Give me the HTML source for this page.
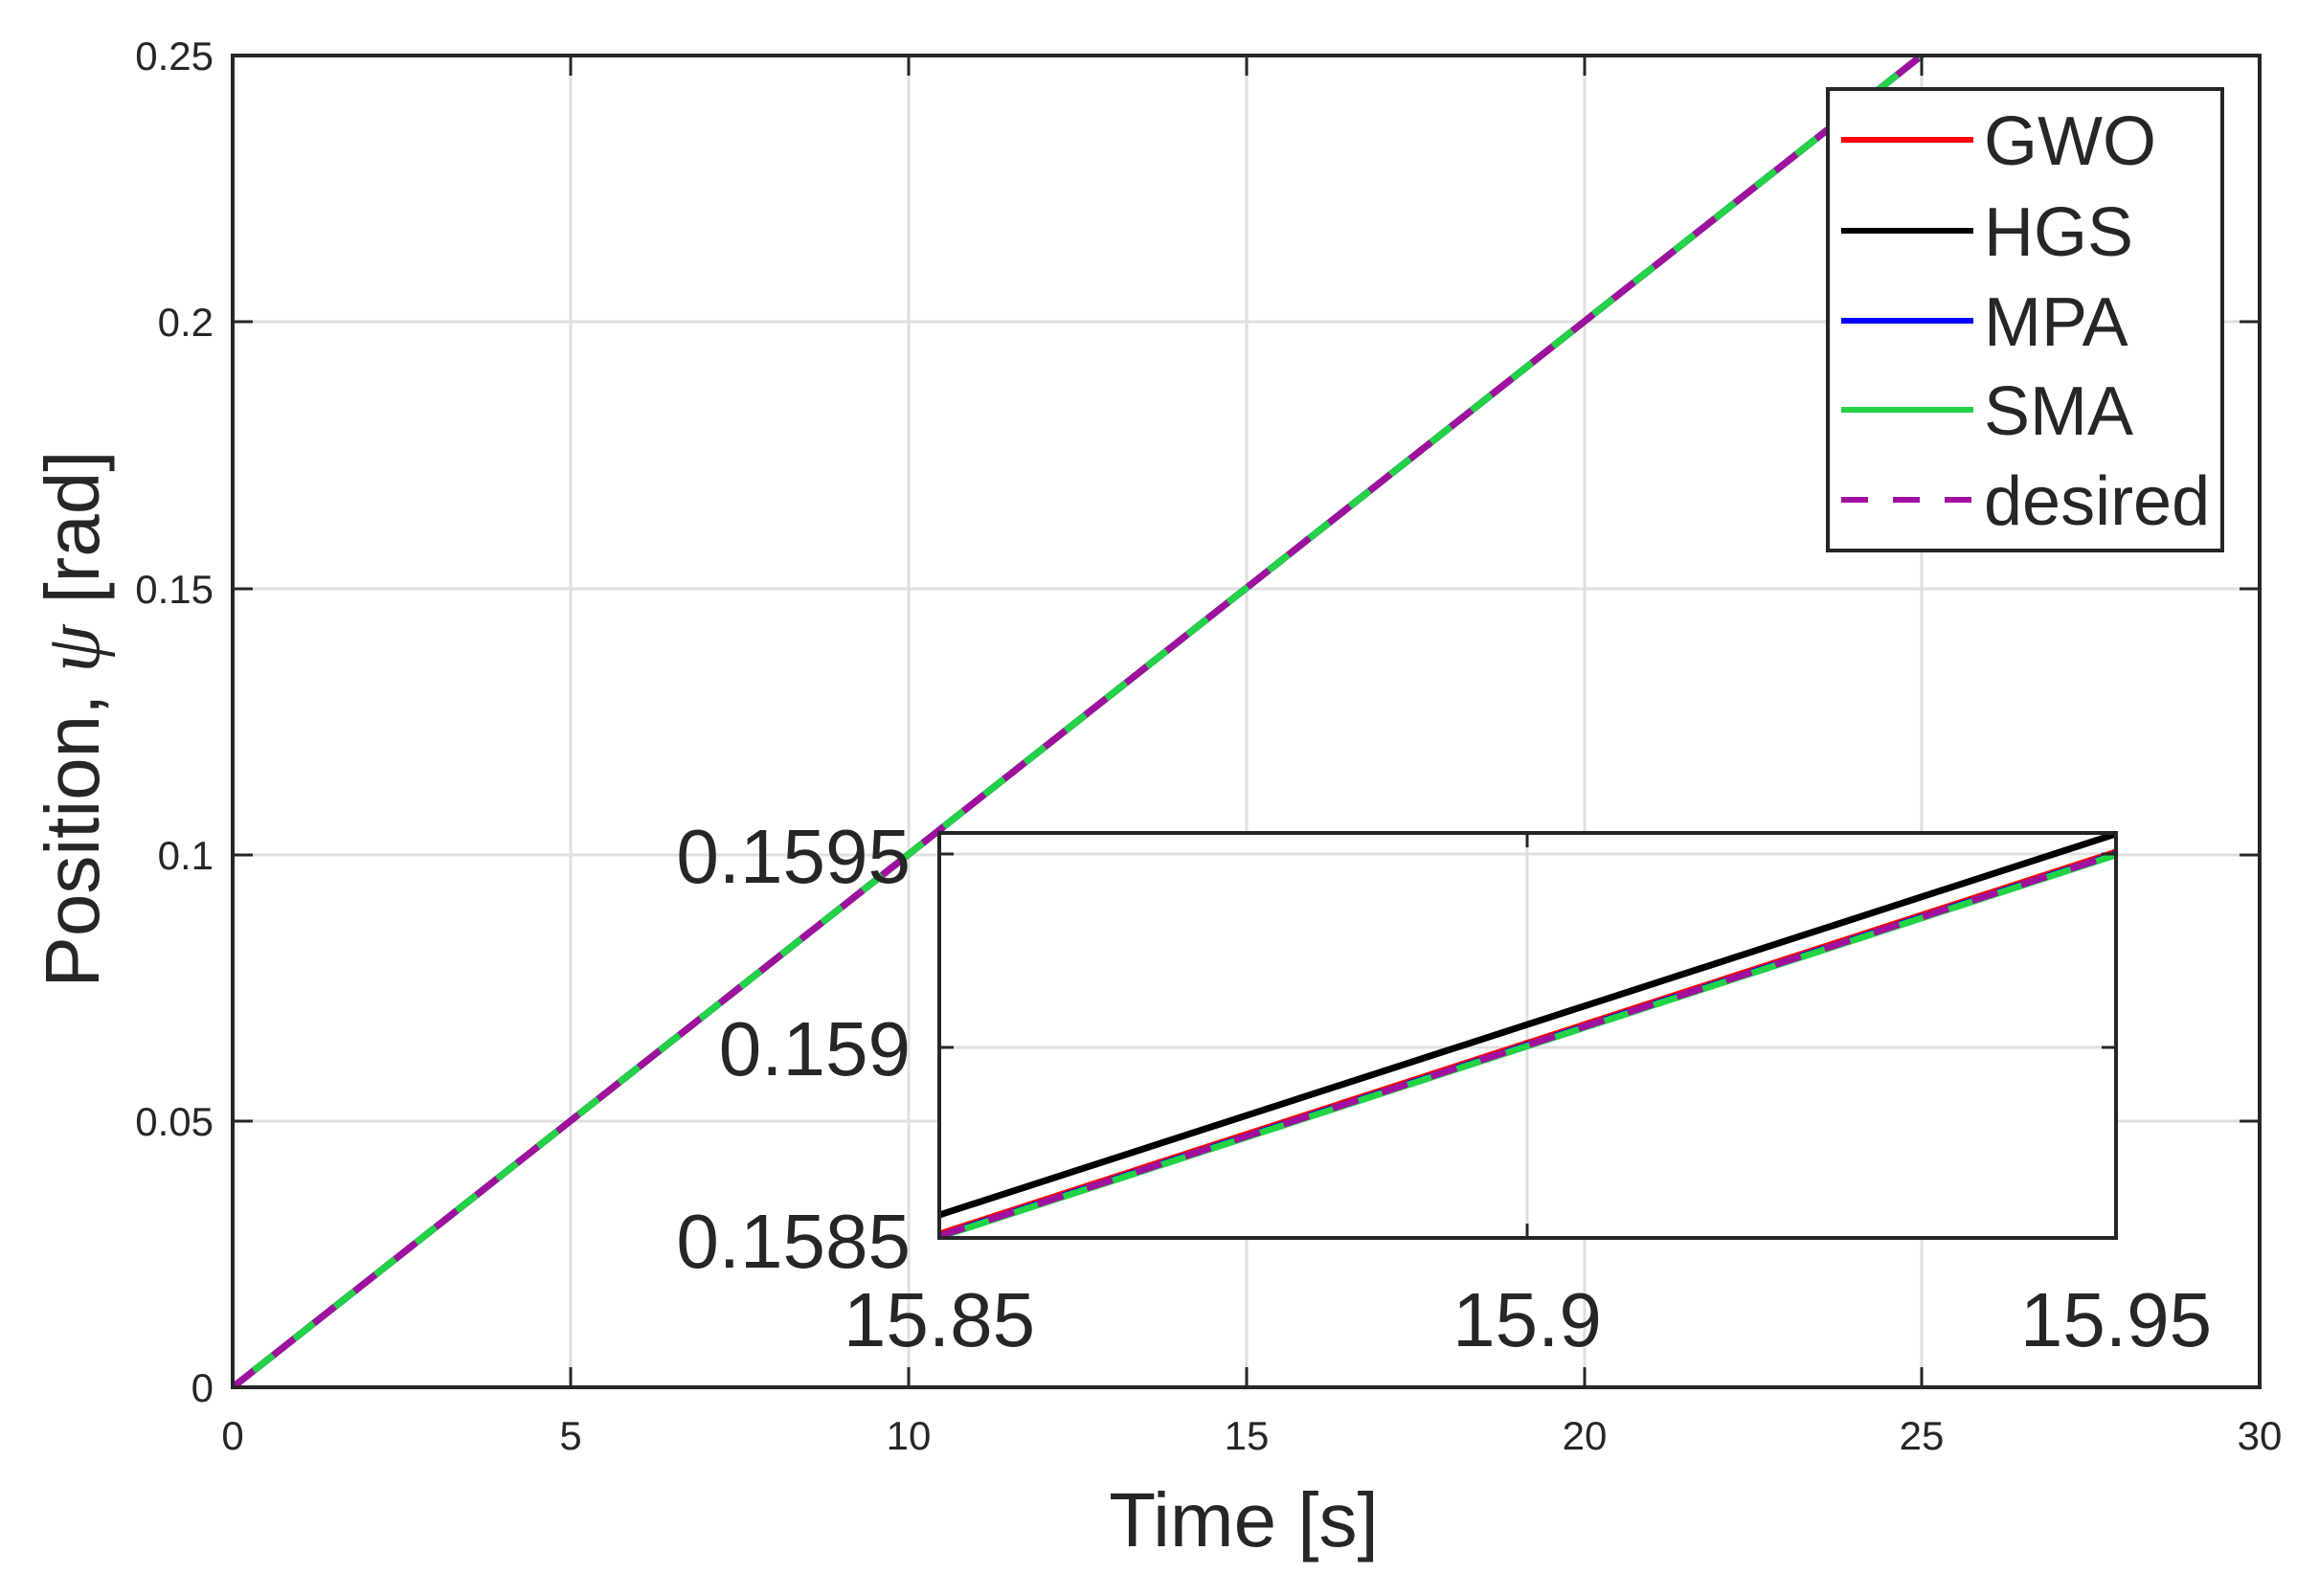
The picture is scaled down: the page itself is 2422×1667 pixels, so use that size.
<!DOCTYPE html>
<html><head><meta charset="utf-8"><style>
html,body{margin:0;padding:0;background:#fff;}
svg{display:block;}
text{font-family:"Liberation Sans",sans-serif;fill:#262626;}
</style></head><body>
<svg width="2422" height="1667" viewBox="0 0 2422 1667" xmlns="http://www.w3.org/2000/svg">
<rect width="2422" height="1667" fill="#fff"/>
<g stroke="#dfdfdf" stroke-width="3">
<line x1="596" y1="58" x2="596" y2="1449"/>
<line x1="949" y1="58" x2="949" y2="1449"/>
<line x1="1302" y1="58" x2="1302" y2="1449"/>
<line x1="1655" y1="58" x2="1655" y2="1449"/>
<line x1="2007" y1="58" x2="2007" y2="1449"/>
<line x1="243" y1="336" x2="2360" y2="336"/>
<line x1="243" y1="615" x2="2360" y2="615"/>
<line x1="243" y1="893" x2="2360" y2="893"/>
<line x1="243" y1="1171" x2="2360" y2="1171"/>
</g>
<defs><clipPath id="c"><rect x="243" y="58" width="2117" height="1391"/></clipPath>
<clipPath id="c2"><rect x="981" y="870" width="1229" height="423"/></clipPath></defs>
<g clip-path="url(#c)" stroke-width="7" fill="none">
<line x1="243" y1="1449" x2="2007" y2="58" stroke="#ff0000"/>
<line x1="243" y1="1449" x2="2007" y2="58" stroke="#000"/>
<line x1="243" y1="1449" x2="2007" y2="58" stroke="#0000ff"/>
<line x1="243" y1="1449" x2="2007" y2="58" stroke="#22d346"/>
<line x1="243" y1="1449" x2="2007" y2="58" stroke="#a0109f" stroke-dasharray="28 26"/>
</g>
<rect x="243" y="58" width="2117" height="1391" fill="none" stroke="#262626" stroke-width="4"/>
<g stroke="#262626" stroke-width="3">
<line x1="596" y1="1449" x2="596" y2="1428"/><line x1="949" y1="1449" x2="949" y2="1428"/><line x1="1302" y1="1449" x2="1302" y2="1428"/><line x1="1655" y1="1449" x2="1655" y2="1428"/><line x1="2007" y1="1449" x2="2007" y2="1428"/>
<line x1="596" y1="58" x2="596" y2="79"/><line x1="949" y1="58" x2="949" y2="79"/><line x1="1302" y1="58" x2="1302" y2="79"/><line x1="1655" y1="58" x2="1655" y2="79"/><line x1="2007" y1="58" x2="2007" y2="79"/>
<line x1="243" y1="336" x2="264" y2="336"/><line x1="243" y1="615" x2="264" y2="615"/><line x1="243" y1="893" x2="264" y2="893"/><line x1="243" y1="1171" x2="264" y2="1171"/>
<line x1="2360" y1="336" x2="2339" y2="336"/><line x1="2360" y1="615" x2="2339" y2="615"/><line x1="2360" y1="893" x2="2339" y2="893"/><line x1="2360" y1="1171" x2="2339" y2="1171"/>
</g>
<g font-size="42" text-anchor="end">
<text x="223" y="73">0.25</text>
<text x="223" y="351">0.2</text>
<text x="223" y="630">0.15</text>
<text x="223" y="908">0.1</text>
<text x="223" y="1186">0.05</text>
<text x="223" y="1464">0</text>
</g>
<g font-size="42" text-anchor="middle">
<text x="243" y="1514">0</text><text x="596" y="1514">5</text><text x="949" y="1514">10</text><text x="1302" y="1514">15</text><text x="1655" y="1514">20</text><text x="2007" y="1514">25</text><text x="2360" y="1514">30</text>
</g>
<text x="1299" y="1615" font-size="80" text-anchor="middle">Time [s]</text>
<text transform="translate(103,751) rotate(-90)" font-size="80" text-anchor="middle">Position, <tspan font-family="Liberation Serif,serif" font-style="italic">ψ</tspan> [rad]</text>
<rect x="981" y="870" width="1229" height="423" fill="#fff"/>
<g stroke="#dfdfdf" stroke-width="3">
<line x1="1595" y1="870" x2="1595" y2="1293"/>
<line x1="981" y1="1094" x2="2210" y2="1094"/>
<line x1="981" y1="892" x2="2210" y2="892"/>
</g>
<g clip-path="url(#c2)" stroke-width="7" fill="none">
<line x1="981" y1="1269" x2="2210" y2="871" stroke="#000"/>
<line x1="981" y1="1289" x2="2210" y2="890" stroke="#ff0000"/>
<line x1="981" y1="1291" x2="2210" y2="892" stroke="#0000ff"/>
<line x1="981" y1="1292" x2="2210" y2="893" stroke="#22d346"/>
<line x1="981" y1="1291" x2="2210" y2="892" stroke="#a0109f" stroke-dasharray="28 26"/>
</g>
<rect x="981" y="870" width="1229" height="423" fill="none" stroke="#262626" stroke-width="4"/>
<g stroke="#262626" stroke-width="3">
<line x1="1595" y1="1293" x2="1595" y2="1278"/><line x1="1595" y1="870" x2="1595" y2="885"/>
<line x1="981" y1="1094" x2="996" y2="1094"/><line x1="2210" y1="1094" x2="2195" y2="1094"/>
<line x1="981" y1="892" x2="996" y2="892"/><line x1="2210" y1="892" x2="2195" y2="892"/>
</g>
<g font-size="80" text-anchor="end">
<text x="951" y="922">0.1595</text>
<text x="951" y="1123">0.159</text>
<text x="951" y="1324">0.1585</text>
</g>
<g font-size="80" text-anchor="middle">
<text x="981" y="1406">15.85</text><text x="1595" y="1406">15.9</text><text x="2210" y="1406">15.95</text>
</g>
<rect x="1909" y="93" width="412" height="482" fill="#fff" stroke="#262626" stroke-width="4"/>
<g stroke-width="6">
<line x1="1923" y1="146" x2="2061" y2="146" stroke="#ff0000"/>
<line x1="1923" y1="241" x2="2061" y2="241" stroke="#000"/>
<line x1="1923" y1="335" x2="2061" y2="335" stroke="#0000ff"/>
<line x1="1923" y1="428" x2="2061" y2="428" stroke="#22d346"/>
<line x1="1923" y1="522" x2="2061" y2="522" stroke="#a0109f" stroke-dasharray="28 26"/>
</g>
<g font-size="72">
<text x="2072" y="172" fill="#000">GWO</text>
<text x="2072" y="267" fill="#000">HGS</text>
<text x="2072" y="361" fill="#000">MPA</text>
<text x="2072" y="454" fill="#000">SMA</text>
<text x="2072" y="548" fill="#000">desired</text>
</g>
</svg>
</body></html>
